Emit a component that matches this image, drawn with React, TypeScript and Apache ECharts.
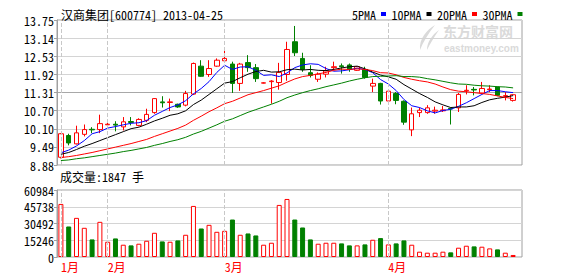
import React, { useEffect, useRef } from 'react';
import * as echarts from 'echarts';

const stockName = '汉商集团';
const stockCode = '600774';

const dates = [
  '2013-01-24', '2013-01-25', '2013-01-28', '2013-01-29', '2013-01-30', '2013-01-31',
  '2013-02-01', '2013-02-04', '2013-02-05', '2013-02-06', '2013-02-07', '2013-02-08',
  '2013-02-18', '2013-02-19', '2013-02-20', '2013-02-21', '2013-02-22', '2013-02-25',
  '2013-02-26', '2013-02-27', '2013-02-28',
  '2013-03-01', '2013-03-04', '2013-03-05', '2013-03-06', '2013-03-07', '2013-03-08',
  '2013-03-11', '2013-03-12', '2013-03-13', '2013-03-14', '2013-03-15', '2013-03-18',
  '2013-03-19', '2013-03-20', '2013-03-21', '2013-03-22', '2013-03-25', '2013-03-26',
  '2013-03-27', '2013-03-28', '2013-03-29',
  '2013-04-01', '2013-04-02', '2013-04-03', '2013-04-08', '2013-04-09', '2013-04-10',
  '2013-04-11', '2013-04-12', '2013-04-15', '2013-04-16', '2013-04-17', '2013-04-18',
  '2013-04-19', '2013-04-22', '2013-04-23', '2013-04-24', '2013-04-25',
];

const opens = [
  9.14, 9.87, 9.59, 9.91, 10.08, 10.07, 10.23, 10.25, 10.16, 10.34,
  10.21, 10.38, 10.64, 11.0, 10.98, 10.92, 10.89, 11.26, 12.2, 11.92,
  12.2, 12.38, 12.27, 11.62, 12.32, 12.15, 11.63, 11.68, 11.65, 11.92,
  13.02, 12.46, 11.98, 11.76, 11.93, 12.15, 12.21, 12.24, 12.06, 12.09,
  11.53, 11.62, 11.03, 11.28, 11.02, 10.06, 10.64, 10.64, 10.69, 10.7,
  10.78, 10.8, 11.37, 11.42, 11.3, 11.41, 11.5, 11.19, 11.05,
];
const closes = [
  9.93, 9.62, 9.96, 10.07, 10.06, 10.27, 10.25, 10.22, 10.33, 10.31,
  10.41, 10.58, 11.11, 10.97, 11.0, 10.83, 11.28, 12.29, 11.86, 12.12,
  12.4, 12.46, 11.62, 12.27, 12.15, 11.78, 11.64, 11.7, 11.99, 12.76,
  12.65, 12.09, 11.89, 11.93, 12.04, 12.18, 12.18, 12.09, 12.18, 11.82,
  11.62, 11.03, 11.36, 11.05, 10.32, 10.6, 10.72, 10.8, 10.72, 10.73,
  10.76, 11.25, 11.39, 11.4, 11.45, 11.43, 11.22, 11.21, 11.24,
];
const lows = [
  9.1, 9.54, 9.57, 9.84, 9.95, 9.95, 10.13, 10.01, 10.04, 10.21,
  10.18, 10.32, 10.6, 10.81, 10.69, 10.8, 10.85, 11.23, 11.84, 11.84,
  12.18, 12.35, 11.3, 11.37, 12.01, 11.67, 11.62, 10.94, 11.41, 11.71,
  12.54, 12.01, 11.82, 11.67, 11.82, 12.06, 11.95, 12.01, 12.04, 11.78,
  11.33, 10.91, 10.94, 10.92, 10.23, 9.85, 10.49, 10.6, 10.6, 10.66,
  10.24, 10.66, 11.25, 11.22, 11.28, 11.33, 11.19, 11.05, 11.01,
];
const highs = [
  9.95, 9.93, 10.2, 10.24, 10.15, 10.57, 10.32, 10.35, 10.49, 10.49,
  10.45, 10.77, 11.13, 11.19, 11.11, 10.94, 11.37, 12.32, 12.4, 12.4,
  12.46, 12.71, 12.35, 12.31, 12.57, 12.27, 11.66, 11.73, 12.31, 13.02,
  13.55, 12.65, 12.23, 11.99, 12.18, 12.35, 12.29, 12.29, 12.2, 12.18,
  11.78, 11.64, 11.39, 11.33, 11.05, 10.81, 10.81, 10.89, 10.84, 10.86,
  10.81, 11.3, 11.56, 11.5, 11.67, 11.56, 11.51, 11.33, 11.26,
];
const volumes = [
  48300, 27780, 35620, 26570, 16000, 32000, 13890, 16900, 11170, 10570,
  12080, 14790, 22040, 14190, 13890, 15100, 20230, 46490, 25960, 29280,
  22940, 23850, 34110, 20230, 21430, 19620, 11170, 12980, 47400, 52830,
  34110, 26870, 16000, 12080, 12980, 12980, 12380, 10570, 10570, 11470,
  15700, 17210, 11470, 12380, 15100, 11170, 4830, 3920, 3920, 4830,
  4230, 8450, 10260, 9660, 9360, 7850, 6940, 3920, 1847,
];

const ma5 = [
  9.29, 9.38, 9.52, 9.7, 9.93, 10.0, 10.12, 10.17, 10.23, 10.28,
  10.3, 10.37, 10.55, 10.68, 10.81, 10.9, 11.04, 11.27, 11.45, 11.68,
  11.99, 12.23, 12.09, 12.17, 12.18, 12.06, 11.89, 11.91, 11.85, 11.97,
  12.15, 12.24, 12.28, 12.26, 12.12, 12.03, 12.04, 12.08, 12.13, 12.09,
  11.98, 11.75, 11.6, 11.38, 11.08, 10.87, 10.81, 10.7, 10.63, 10.71,
  10.75, 10.85, 10.97, 11.11, 11.25, 11.38, 11.38, 11.34, 11.31,
];
const ma10 = [
  9.24, 9.3, 9.4, 9.51, 9.6, 9.7, 9.8, 9.9, 10.0, 10.1,
  10.15, 10.25, 10.36, 10.45, 10.55, 10.6, 10.7, 10.91, 11.06, 11.25,
  11.44, 11.63, 11.68, 11.81, 11.93, 12.02, 12.06, 12.0, 12.01, 12.08,
  12.1, 12.07, 12.09, 12.06, 12.05, 12.09, 12.14, 12.18, 12.2, 12.11,
  12.0, 11.9, 11.84, 11.76, 11.58, 11.43, 11.28, 11.15, 11.0, 10.9,
  10.81, 10.83, 10.83, 10.87, 10.98, 11.07, 11.12, 11.16, 11.21,
];
const ma20 = [
  9.13, 9.16, 9.2, 9.25, 9.3, 9.36, 9.42, 9.48, 9.54, 9.6,
  9.67, 9.74, 9.84, 9.93, 10.02, 10.11, 10.22, 10.38, 10.52, 10.67,
  10.8, 10.94, 11.02, 11.13, 11.24, 11.31, 11.38, 11.46, 11.54, 11.66,
  11.77, 11.85, 11.89, 11.94, 11.99, 12.06, 12.1, 12.09, 12.11, 12.09,
  12.05, 11.98, 11.97, 11.91, 11.82, 11.76, 11.71, 11.67, 11.6, 11.5,
  11.41, 11.36, 11.34, 11.31, 11.28, 11.25, 11.2, 11.15, 11.11,
];
const ma30 = [
  9.03, 9.05, 9.09, 9.12, 9.16, 9.2, 9.24, 9.28, 9.33, 9.37,
  9.42, 9.47, 9.54, 9.6, 9.67, 9.73, 9.81, 9.92, 10.01, 10.12,
  10.23, 10.35, 10.43, 10.54, 10.65, 10.74, 10.83, 10.92, 11.02, 11.14,
  11.23, 11.31, 11.38, 11.44, 11.51, 11.57, 11.63, 11.7, 11.76, 11.81,
  11.85, 11.86, 11.87, 11.88, 11.85, 11.85, 11.83, 11.78, 11.74, 11.69,
  11.64, 11.6, 11.59, 11.56, 11.54, 11.53, 11.51, 11.5, 11.47,
];

const maNames = ['5PMA', '10PMA', '20PMA', '30PMA'];
const priceTicks = ['8.88', '9.49', '10.10', '10.70', '11.31', '11.92', '12.53', '13.14', '13.75'];
const volumeTicks = ['0', '15246', '30492', '45738', '60984'];
const watermarkName = '东方财富网';
const watermarkSite = 'eastmoney.com';

const FONT = "'Noto Sans Mono CJK SC', 'Noto Sans CJK SC', 'Liberation Mono', monospace";
const RED = '#ff0000';
const GREEN = '#008000';
const WATERMARK = '#dadada';

const LOGO_PATH =
  'M17 0 C 9 5, 1 13, 2 25 C 5 17, 10 9, 17 0 Z M 21 5 C 14 10, 9 17, 9 25 C 12 19, 16 12, 21 5 Z';

let logoRegistered = false;

export default function App() {
  const ref = useRef<HTMLDivElement>(null);

  useEffect(() => {
    if (!ref.current) return;
    if (!logoRegistered) {
      echarts.graphic.registerShape('emlogo', echarts.graphic.extendPath(LOGO_PATH, {}));
      logoRegistered = true;
    }
    const chart = echarts.init(ref.current, null, { renderer: 'svg' });

    const last = dates.length - 1;
    const priceMin = parseFloat(priceTicks[0]);
    const priceMax = parseFloat(priceTicks[priceTicks.length - 1]);
    const volMax = parseFloat(volumeTicks[volumeTicks.length - 1]);
    const volStep = parseFloat(volumeTicks[1]);

    const isUp = (i: number) => closes[i] >= opens[i];
    const candleData = dates.map((_, i) => [opens[i], closes[i], lows[i], highs[i]]);
    const volData = volumes.map((v, i) => ({
      value: v,
      itemStyle: isUp(i)
        ? { color: '#ffffff', borderColor: RED, borderWidth: 1 }
        : { color: GREEN, borderColor: GREEN, borderWidth: 1 },
    }));
    const monthStart = dates.map((d, i) => i === 0 || d.slice(5, 7) !== dates[i - 1].slice(5, 7));
    const monthDates = dates.filter((_, i) => monthStart[i]);

    const dashed = {
      symbol: 'none',
      silent: true,
      label: { show: false },
      lineStyle: { type: 'dashed', color: '#c8c8c8', width: 1 },
      data: monthDates.map((d) => ({ xAxis: d })),
    };

    const splitColors = priceTicks.map((_, i) => (i === 4 ? '#a8a8a8' : '#d4d4d4'));

    const maColors = ['#0000ff', '#000000', RED, GREEN];
    const maData = [ma5, ma10, ma20, ma30];

    chart.setOption({
      animation: false,
      backgroundColor: '#ffffff',
      textStyle: { fontFamily: FONT },
      title: [
        {
          text: `${stockName}[${stockCode}] ${dates[last]}`,
          left: 61,
          top: 8,
          padding: 0,
          textStyle: { fontSize: 12, fontWeight: 'normal', color: '#000', fontFamily: FONT },
        },
        {
          text: `成交量:${volumes[last]} 手`,
          left: 60,
          top: 170,
          padding: 0,
          textStyle: { fontSize: 12, fontWeight: 'normal', color: '#000', fontFamily: FONT },
        },
      ],
      legend: {
        left: 352,
        top: 8,
        padding: 0,
        align: 'right',
        itemWidth: 5,
        itemHeight: 4,
        itemGap: 5.5,
        selectedMode: false,
        textStyle: { fontSize: 12, color: '#000', fontFamily: FONT },
        data: maNames.map((n) => ({ name: n, icon: 'rect' })),
      },
      graphic: [
        {
          type: 'emlogo',
          x: 418,
          y: 25,
          silent: true,
          style: { fill: WATERMARK },
        },
        {
          type: 'text',
          left: 443,
          top: 24,
          silent: true,
          style: { text: watermarkName, font: "bold 14px 'Noto Sans CJK SC'", fill: WATERMARK },
        },
        {
          type: 'text',
          left: 444,
          top: 43,
          silent: true,
          style: { text: watermarkSite, font: "bold 10px 'Liberation Sans'", fill: WATERMARK },
        },
      ],
      grid: [
        { left: 57, top: 20, width: 465, height: 145, show: true, borderColor: '#a0a0a0', borderWidth: 1 },
        { left: 57, top: 20, width: 460, height: 145 },
        { left: 57, top: 190, width: 465, height: 67, show: true, borderColor: '#a0a0a0', borderWidth: 1 },
        { left: 57, top: 190, width: 460, height: 67 },
      ],
      xAxis: [
        { type: 'value', gridIndex: 0, min: 0, max: 1, show: false },
        { type: 'category', gridIndex: 1, data: dates, show: false, boundaryGap: true },
        { type: 'value', gridIndex: 2, min: 0, max: 1, show: false },
        {
          type: 'category',
          gridIndex: 3,
          data: dates,
          boundaryGap: true,
          axisLine: { show: false },
          axisTick: { show: false },
          splitLine: { show: false },
          axisLabel: {
            interval: (i: number) => monthStart[i],
            formatter: (v: string) => `${parseInt(v.slice(5, 7), 10)}月`,
            color: RED,
            fontSize: 12,
            fontFamily: FONT,
            align: 'left',
            margin: 3,
          },
        },
      ],
      yAxis: [
        {
          type: 'value',
          gridIndex: 0,
          min: 0,
          max: priceTicks.length - 1,
          interval: 1,
          axisLine: { show: true, lineStyle: { color: '#a0a0a0' } },
          axisTick: { show: true, length: 3, lineStyle: { color: '#a0a0a0' } },
          axisLabel: {
            formatter: (v: number) => priceTicks[Math.round(v)],
            fontSize: 12,
            color: '#000',
            fontFamily: FONT,
            margin: 3,
          },
          splitLine: { show: true, lineStyle: { color: splitColors, width: 1 } },
        },
        { type: 'value', gridIndex: 1, min: priceMin, max: priceMax, show: false, splitLine: { show: false } },
        {
          type: 'value',
          gridIndex: 2,
          min: 0,
          max: volMax,
          interval: volStep,
          axisLine: { show: true, lineStyle: { color: '#a0a0a0' } },
          axisTick: { show: true, length: 3, lineStyle: { color: '#a0a0a0' } },
          axisLabel: {
            formatter: (v: number) => volumeTicks[Math.round(v / volStep)],
            fontSize: 12,
            color: '#000',
            fontFamily: FONT,
            margin: 3,
          },
          splitLine: { show: true, lineStyle: { color: '#d4d4d4', width: 1 } },
        },
        { type: 'value', gridIndex: 3, min: 0, max: volMax, show: false, splitLine: { show: false } },
      ],
      series: [
        {
          type: 'candlestick',
          name: 'K',
          xAxisIndex: 1,
          yAxisIndex: 1,
          data: candleData,
          barWidth: 5,
          itemStyle: {
            color: '#ffffff',
            color0: GREEN,
            borderColor: RED,
            borderColor0: GREEN,
            borderWidth: 1,
          },
          markLine: dashed,
        },
        ...maNames.map((n, k) => ({
          type: 'line',
          name: n,
          xAxisIndex: 1,
          yAxisIndex: 1,
          data: maData[k],
          symbol: 'none',
          showSymbol: false,
          lineStyle: { width: 1, color: maColors[k] },
          itemStyle: { color: maColors[k] },
        })),
        {
          type: 'bar',
          name: 'VOL',
          xAxisIndex: 3,
          yAxisIndex: 3,
          data: volData,
          barWidth: 5,
          markLine: dashed,
        },
      ],
    });

    return () => chart.dispose();
  }, []);

  return <div ref={ref} style={{ position: 'fixed', left: 0, top: 0, width: 578, height: 276 }} />;
}
